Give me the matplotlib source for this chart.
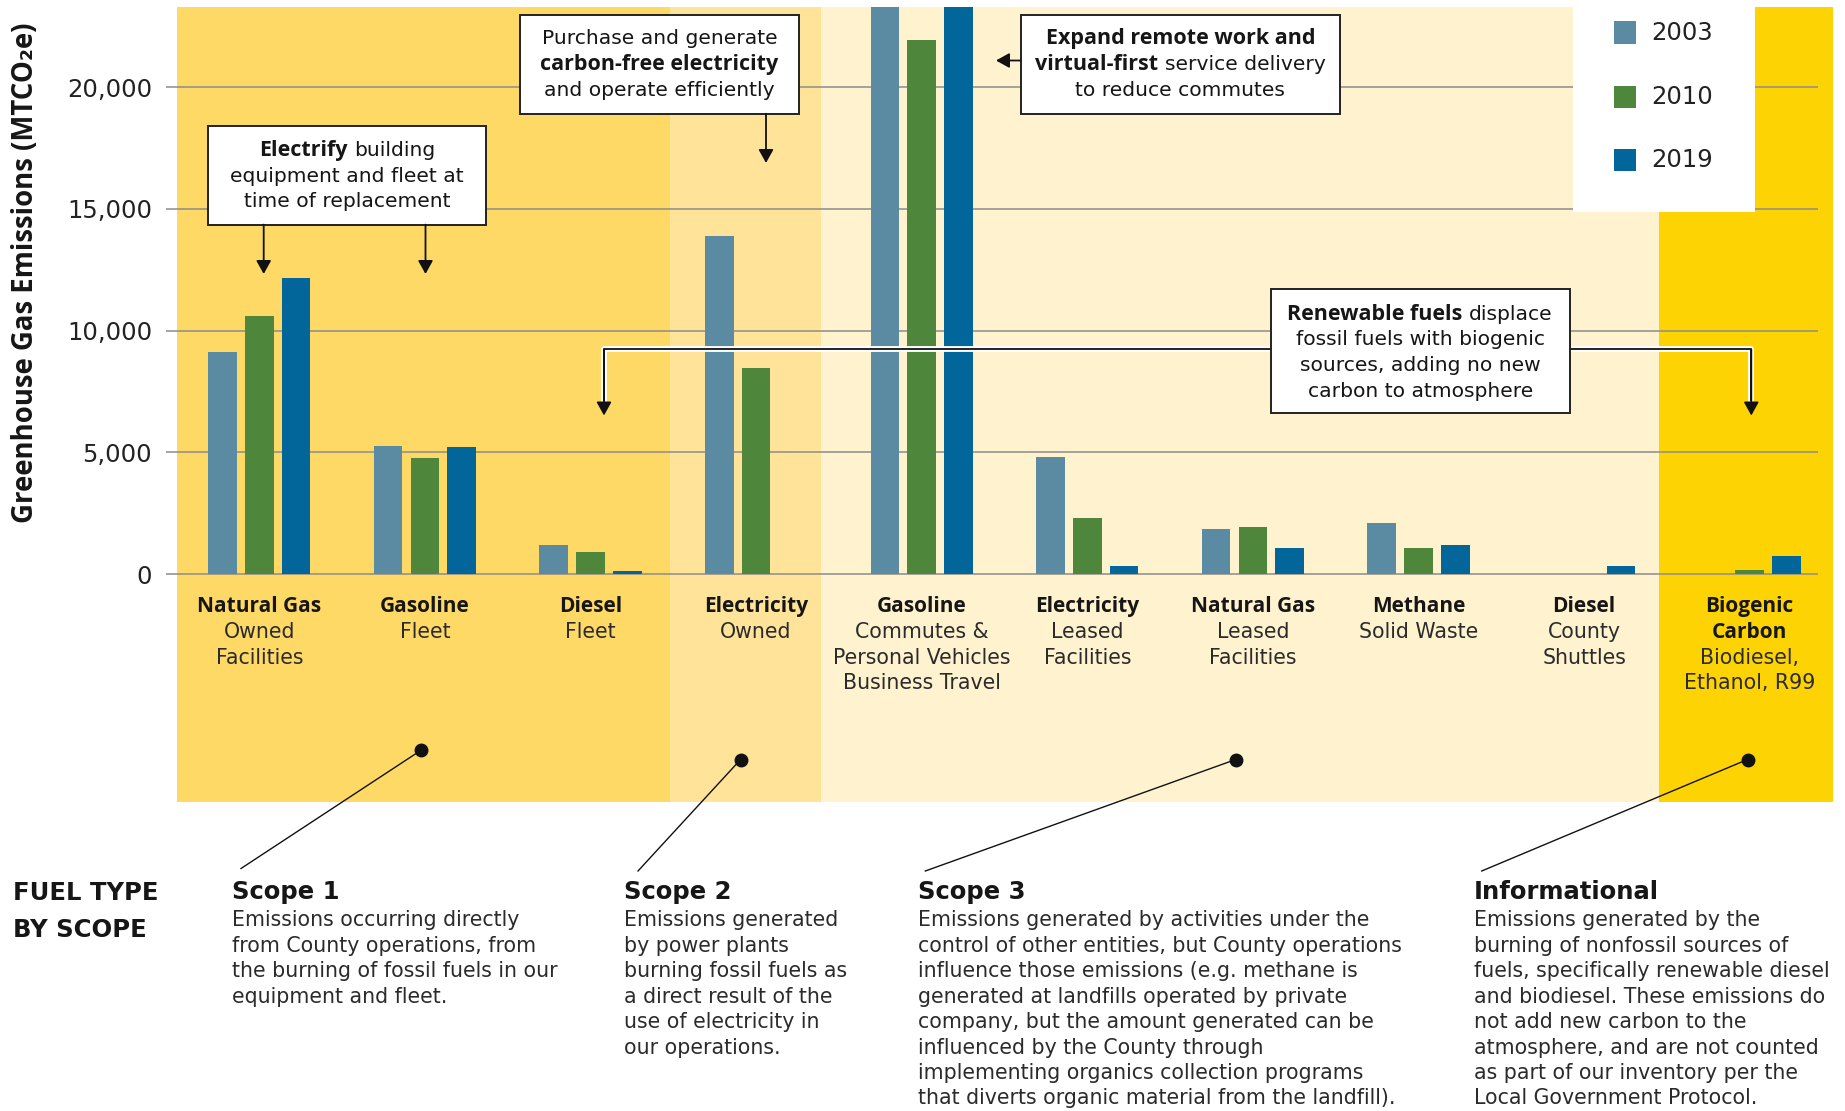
import matplotlib
matplotlib.use("Agg")
import matplotlib.pyplot as plt
import matplotlib.transforms as mtransforms
import matplotlib.patheffects as pe
from matplotlib.patches import Rectangle, FancyArrowPatch
from matplotlib.lines import Line2D
import numpy as np

# Emissions by fuel type (MTCO2e)
categories = ["Natural Gas", "Gasoline", "Diesel", "Electricity", "Gasoline",
              "Electricity", "Natural Gas", "Methane", "Diesel", "Biogenic\nCarbon"]
subtitles = ["Owned\nFacilities", "Fleet", "Fleet", "Owned",
             "Commutes &\nPersonal Vehicles\nBusiness Travel",
             "Leased\nFacilities", "Leased\nFacilities", "Solid Waste",
             "County\nShuttles", "Biodiesel,\nEthanol, R99"]
years = ["2003", "2010", "2019"]
em_2003 = [9120, 5270, 1200, 13870, 24600, 4820, 1850, 2100, 0, 0]
em_2010 = [10610, 4760, 900, 8450, 21950, 2300, 1930, 1050, 0, 160]
em_2019 = [12150, 5200, 110, 0, 24600, 320, 1050, 1200, 320, 750]
yticks = [0, 5000, 10000, 15000, 20000]

bar_colors = ["#5a8ba2", "#4e873c", "#03669a"]
TXT = "#161616"
BODY = "#2b2b2b"

# fonts: wide regular face, tighter bold face for labels
REG = ["DejaVu Sans"]
BOLD = ["Open Sans", "DejaVu Sans"]

W, H = 1845, 1111
plt.rcParams['font.family'] = ['DejaVu Sans']

fig = plt.figure(figsize=(W / 100, H / 100), dpi=100)


def fx(px):
    return px / W


def fy(py):
    return 1 - py / H


ax = fig.add_axes([fx(176.5), fy(802), 1656 / W, 795 / H])

# scope background bands
ax.axvspan(-0.5, 2.48, color="#fed966", lw=0, zorder=0)
ax.axvspan(2.48, 3.39, color="#ffe399", lw=0, zorder=0)
ax.axvspan(3.39, 8.45, color="#fff2cf", lw=0, zorder=0)
ax.axvspan(8.45, 9.5, color="#fed304", lw=0, zorder=0)

ax.hlines(yticks, -0.563, 9.41, colors="#8c8c8c", lw=1.1, zorder=1, clip_on=False)

x = np.arange(len(categories))
for off, vals, col in zip([-0.222, 0, 0.222], [em_2003, em_2010, em_2019], bar_colors):
    ax.bar(x + off, vals, 0.173, color=col, lw=0, zorder=3)

ax.set_xlim(-0.5, 9.5)
ax.set_ylim(-9366, 23292)
ax.set_xticks([])
ax.set_yticks(yticks, labels=[f"{v:,}" for v in yticks])
ax.tick_params(axis="y", length=0, pad=17.6, labelsize=17.5, labelcolor="#222222")
for s in ax.spines.values():
    s.set_visible(False)

fig.text(fx(26), fy(273), "Greenhouse Gas Emissions (MTCO\u2082e)", rotation=90,
         fontsize=19.8, fontweight="bold", family=BOLD, ha="center", va="center", color=TXT)

# category labels under the bars
trans = mtransforms.blended_transform_factory(ax.transData, fig.transFigure)
for i, (c, sub) in enumerate(zip(categories, subtitles)):
    k = 0
    for line in c.split("\n"):
        ax.text(i, fy(606.4 + 25.6 * k), line, transform=trans, ha="center", va="center",
                fontsize=15, fontweight="bold", family=BOLD, color=TXT)
        k += 1
    for line in sub.split("\n"):
        ax.text(i, fy(606.4 + 25.6 * k), line, transform=trans, ha="center", va="center",
                fontsize=14.8, family=REG, color=BODY)
        k += 1

renderer = fig.canvas.get_renderer()
B, N = "bold", "normal"
SIZE = {B: 15.5, N: 14.6}
FAM = {B: BOLD, N: REG}


def text_width(s, wt):
    t = fig.text(0, 0, s, fontsize=SIZE[wt], fontweight=wt, family=FAM[wt])
    w = t.get_window_extent(renderer).width
    t.remove()
    return w


def rich_line(cx, py, segs):
    gap = text_width("x x", N) - text_width("xx", N)
    texts = [fig.text(0, fy(py), s, fontsize=SIZE[wt], fontweight=wt, family=FAM[wt],
                      ha="left", va="center", color=TXT, zorder=6) for s, wt in segs]
    widths = [t.get_window_extent(renderer).width for t in texts]
    left = cx - (sum(widths) + gap * (len(texts) - 1)) / 2
    for t, w in zip(texts, widths):
        t.set_x(fx(left))
        left += w + gap


def box(x0, y0, x1, y1, lines, first_y, step):
    fig.add_artist(Rectangle((fx(x0), fy(y1)), (x1 - x0) / W, (y1 - y0) / H,
                             transform=fig.transFigure, fc="white", ec="#222222",
                             lw=1.4, zorder=5))
    for k, segs in enumerate(lines):
        rich_line((x0 + x1) / 2, first_y + step * k, segs)


def arrow(p0, p1):
    fig.add_artist(FancyArrowPatch((fx(p0[0]), fy(p0[1])), (fx(p1[0]), fy(p1[1])),
                                   transform=fig.transFigure,
                                   arrowstyle="-|>,head_length=0.45,head_width=0.25",
                                   mutation_scale=18, color="#111111", lw=1.3,
                                   shrinkA=0, shrinkB=0, zorder=6))


box(207.6, 126.3, 486.4, 224.6,
    [[("Electrify", B), ("building", N)], [("equipment and fleet at", N)],
     [("time of replacement", N)]], 150.5, 25.5)
arrow((263.7, 224.6), (263.7, 274))
arrow((425.5, 224.6), (425.5, 274))

box(520, 15.3, 798.7, 113.7,
    [[("Purchase and generate", N)], [("carbon-free electricity", B)],
     [("and operate efficiently", N)]], 38.5, 25.9)
arrow((766, 113.7), (766, 163))

box(1020.5, 15.3, 1340.3, 113.7,
    [[("Expand remote work and", B)], [("virtual-first", B), ("service delivery", N)],
     [("to reduce commutes", N)]], 38.5, 25.9)
arrow((1020.5, 60.5), (996, 60.5))

box(1270.9, 289.3, 1569.5, 412.6,
    [[("Renewable fuels", B), ("displace", N)], [("fossil fuels with biogenic", N)],
     [("sources, adding no new", N)], [("carbon to atmosphere", N)]], 314, 25.8)
for xe in (604, 1751.3):
    xs = 1270.9 if xe < 1000 else 1569.5
    fig.add_artist(Line2D([fx(xs), fx(xe), fx(xe)], [fy(349.4), fy(349.4), fy(400)],
                          transform=fig.transFigure, color="#111111", lw=1.3, zorder=4,
                          path_effects=[pe.Stroke(linewidth=4.2, foreground="white"),
                                        pe.Normal()]))
    arrow((xe, 349.4), (xe, 415.5))

# legend
fig.add_artist(Rectangle((fx(1573), fy(211.6)), (1755 - 1573) / W, (211.6 - 7) / H,
                         transform=fig.transFigure, fc="white", lw=0, zorder=5))
for yr, col, yc in zip(years, bar_colors, [32.5, 96.8, 160]):
    fig.add_artist(Rectangle((fx(1613.6), fy(yc + 11)), 22 / W, 22 / H,
                             transform=fig.transFigure, fc=col, lw=0, zorder=6))
    fig.text(fx(1651.5), fy(yc), yr, fontsize=17.5, color="#222222", va="center", zorder=6)

# scope leader lines
leaders = [((421.4, 750), (241, 868.5)), ((740.6, 759.5), (638, 871)),
           ((1235.7, 759.5), (925.3, 871)), ((1747.5, 759.5), (1481.7, 871))]
for (dx, dy), (ex, ey) in leaders:
    fig.add_artist(Line2D([fx(dx), fx(ex)], [fy(dy), fy(ey)], transform=fig.transFigure,
                          color="#111111", lw=1.0, zorder=6))
    fig.add_artist(Line2D([fx(dx)], [fy(dy)], transform=fig.transFigure, marker="o",
                          markersize=9, color="#111111", zorder=6))

fig.text(fx(12.9), fy(893), "FUEL TYPE", fontsize=17.5, fontweight="bold", va="center", color=TXT)
fig.text(fx(12.9), fy(930), "BY SCOPE", fontsize=17.5, fontweight="bold", va="center", color=TXT)

scope_text = [
    (231.8, "Scope 1", ["Emissions occurring directly", "from County operations, from",
                        "the burning of fossil fuels in our", "equipment and fleet."]),
    (623.8, "Scope 2", ["Emissions generated", "by power plants", "burning fossil fuels as",
                        "a direct result of the", "use of electricity in", "our operations."]),
    (918, "Scope 3", ["Emissions generated by activities under the",
                      "control of other entities, but County operations",
                      "influence those emissions (e.g. methane is",
                      "generated at landfills operated by private",
                      "company, but the amount generated can be",
                      "influenced by the County through",
                      "implementing organics collection programs",
                      "that diverts organic material from the landfill)."]),
    (1473.8, "Informational", ["Emissions generated by the", "burning of nonfossil sources of",
                               "fuels, specifically renewable diesel",
                               "and biodiesel. These emissions do", "not add new carbon to the",
                               "atmosphere, and are not counted",
                               "as part of our inventory per the",
                               "Local Government Protocol."]),
]
for px, title, body in scope_text:
    fig.text(fx(px), fy(892), title, fontsize=17.5, fontweight="bold", va="center", color=TXT)
    for k, line in enumerate(body):
        fig.text(fx(px), fy(920.5 + 25.4 * k), line, fontsize=14.8, va="center", color=BODY)

fig.savefig("out.png", dpi=100)
